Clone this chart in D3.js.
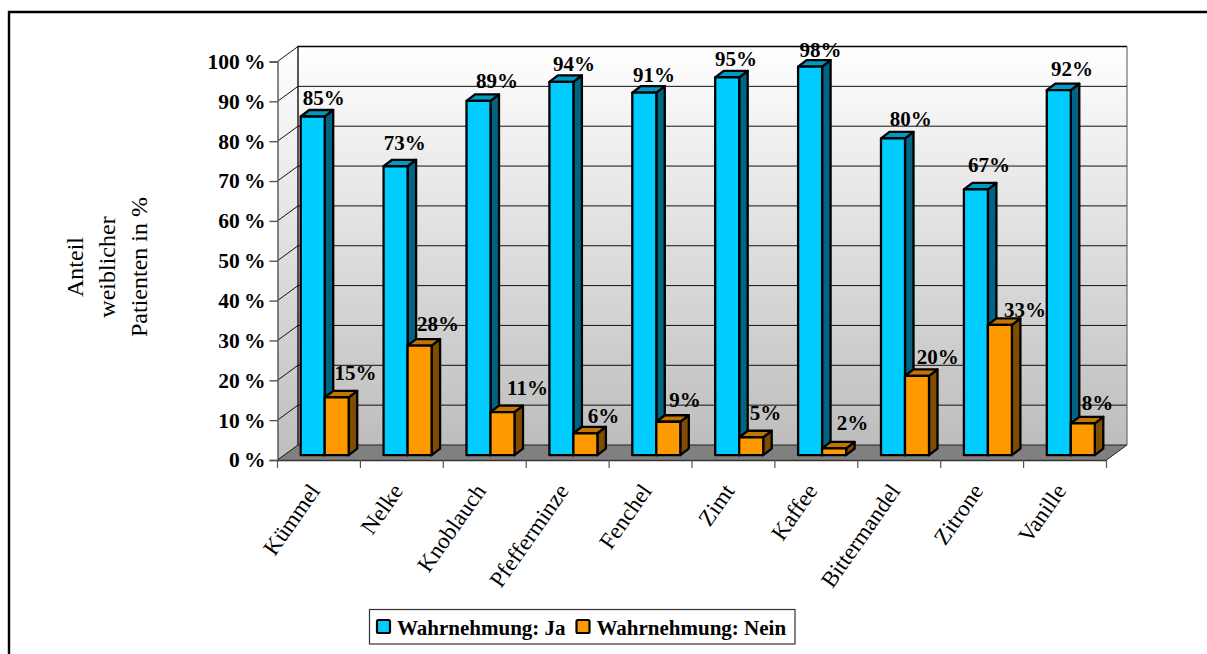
<!DOCTYPE html>
<html><head><meta charset="utf-8">
<script src="https://cdn.jsdelivr.net/npm/d3@7"></script>
<style>html,body{margin:0;padding:0;background:#fff}svg{display:block}text{font-family:"Liberation Serif",serif;fill:#000}</style>
</head><body><svg id="c" width="1207" height="654"></svg>
<script>
const categories=["Kümmel","Nelke","Knoblauch","Pfefferminze","Fenchel","Zimt","Kaffee","Bittermandel","Zitrone","Vanille"];
const seriesJa=[85,72.5,88.9,93.7,91,94.8,97.5,79.5,66.7,91.6];
const seriesNein=[14.5,27.5,10.8,5.5,8.4,4.5,1.7,19.9,32.7,8];
const labelsJa=["85%","73%","89%","94%","91%","95%","98%","80%","67%","92%"];
const labelsNein=["15%","28%","11%","6%","9%","5%","2%","20%","33%","8%"];
const yTicks=[0,10,20,30,40,50,60,70,80,90,100];
const seriesNames=["Wahrnehmung: Ja","Wahrnehmung: Nein"];
const titleLines=["Anteil","weiblicher","Patienten in %"];

const svg=d3.select("#c");
const defs=svg.append("defs");
const g=defs.append("linearGradient").attr("id","wall").attr("x1",0).attr("y1",0).attr("x2",0).attr("y2",1);
g.append("stop").attr("offset",0).attr("stop-color","#ffffff");
g.append("stop").attr("offset",1).attr("stop-color","#bdbdbd");

// frame
svg.append("path").attr("d","M9,654V12H1207").attr("fill","none").attr("stroke","#000").attr("stroke-width",2.4);

const DX=20.5,DY=-15; // chart depth
const x=d3.scaleBand().domain(categories).range([277.5,1106.5]);
const y=d3.scaleLinear().domain([0,100]).range([460,61.5]);
const X0=277.5,X1=1106.5;
const Y0=y(0),Y100=y(100);

// walls
svg.append("path").attr("d",`M${X0+DX},${Y100+DY}H${X1+DX}V${Y0+DY}H${X0+DX}Z`).attr("fill","url(#wall)");
svg.append("path").attr("d",`M${X0},${Y100}L${X0+DX},${Y100+DY}V${Y0+DY}L${X0},${Y0}Z`).attr("fill","url(#wall)");
svg.append("path").attr("d",`M${X0},${Y0}L${X0+DX},${Y0+DY}H${X1+DX}L${X1},${Y0}Z`).attr("fill","#808080");

// gridlines
yTicks.forEach(t=>{
  if(t>0&&t<100) svg.append("line").attr("x1",X0+DX).attr("x2",X1+DX).attr("y1",y(t)+DY).attr("y2",y(t)+DY).attr("stroke","#111").attr("stroke-width",1);
  svg.append("line").attr("x1",X0).attr("x2",X0+DX).attr("y1",y(t)).attr("y2",y(t)+DY).attr("stroke","#111").attr("stroke-width",1);
});
svg.append("path").attr("d",`M${X0+DX},${Y0+DY}V${Y100+DY}H${X1+DX}`).attr("fill","none").attr("stroke","#000").attr("stroke-width",1.3);
svg.append("path").attr("d",`M${X0+DX},${Y0+DY}H${X1+DX}L${X1},${Y0}`).attr("fill","none").attr("stroke","#222").attr("stroke-width",1);
svg.append("line").attr("x1",X1+DX).attr("x2",X1+DX).attr("y1",Y100+DY).attr("y2",Y0+DY).attr("stroke","#555").attr("stroke-width",1);

// axes
const axisL=d3.axisLeft(y).tickValues(yTicks).tickFormat(d=>d+"\u2009%").tickSize(8).tickPadding(4);
const al=svg.append("g").attr("transform",`translate(${X0},0)`).call(axisL);
al.selectAll("path,line").attr("stroke","#555").attr("stroke-width",1.4);
al.selectAll("text").style("font-family","'Liberation Serif',serif").style("font-size","21.5px").style("font-weight","bold").attr("fill","#000");
const axisB=d3.axisBottom(x).tickValues([]).tickSize(0);
const ab=svg.append("g").attr("transform",`translate(0,${Y0})`).call(axisB);
ab.select("path").attr("stroke","#333").attr("stroke-width",1.4);
const tickPos=d3.range(categories.length+1).map(i=>X0+i*x.step());
svg.selectAll(".xt").data(tickPos).join("line").attr("x1",d=>d).attr("x2",d=>d).attr("y1",Y0).attr("y2",Y0+8).attr("stroke","#555").attr("stroke-width",1.2);

// category labels
svg.selectAll(".cat").data(categories).join("text")
  .attr("transform",d=>`translate(${x(d)+x.bandwidth()/2+2},${Y0+31}) rotate(-55)`)
  .attr("text-anchor","end").attr("font-size",23).text(d=>d);

// bars
const BW=24,BD=8.5,BDY=-6.5,B0=y(0)-4.8;
const colors=[{f:"#00ccff",t:"#0099c4",s:"#006482"},{f:"#ff9900",t:"#c47500",s:"#7f4c00"}];
const h=v=>Y0-y(v);
function bars(vals,off,c){
  const gs=svg.append("g").attr("stroke","#000").attr("stroke-width",2.3).attr("stroke-linejoin","round");
  categories.forEach((cat,i)=>{
    const l=x(cat)+off, r=l+BW, top=B0-h(vals[i]);
    gs.append("path").attr("d",`M${r},${top}L${r+BD},${top+BDY}V${B0+BDY}L${r},${B0}Z`).attr("fill",c.s);
    gs.append("path").attr("d",`M${l},${top}L${l+BD},${top+BDY}H${r+BD}L${r},${top}Z`).attr("fill",c.t);
    gs.append("rect").attr("x",l).attr("y",top).attr("width",BW).attr("height",h(vals[i])).attr("fill",c.f);
  });
}
bars(seriesJa,23.2,colors[0]);
bars(seriesNein,47.2,colors[1]);

// value labels: hand-placed in the original, so each has its own nudge
const nudgeXJa=[46.2,44.3,53.7,47.8,45,44,45.6,52.9,48.3,48.4];
const nudgeYJa=[-11.7,-16,-12.7,-10.5,-11,-11,-9.7,-12.3,-17.6,-14];
const nudgeXNein=[78,77.6,84.2,77.3,75.9,73.5,77.6,79.9,84.3,73.9];
const nudgeYNein=[-17.7,-15,-17.3,-10,-14.4,-17.3,-18.3,-12,-8.3,-13.3];
function labels(vals,txt,nx,ny){
  svg.append("g").selectAll("text").data(categories).join("text")
   .attr("x",(d,i)=>x(d)+nx[i]).attr("y",(d,i)=>B0-h(vals[i])+ny[i])
   .attr("text-anchor","middle").attr("font-size",21).attr("font-weight","bold").text((d,i)=>txt[i]);
}
labels(seriesJa,labelsJa,nudgeXJa,nudgeYJa);
labels(seriesNein,labelsNein,nudgeXNein,nudgeYNein);

// title
titleLines.forEach((t,i)=>{
  svg.append("text").attr("transform",`translate(${83+i*32},267) rotate(-90)`).attr("text-anchor","middle").attr("font-size",24).text(t);
});

// legend
const lg=svg.append("g");
lg.append("rect").attr("x",369.5).attr("y",609.5).attr("width",425.5).attr("height",34.5).attr("fill","#fff").attr("stroke","#333").attr("stroke-width",1.2);
const lx=[377,576.5];
seriesNames.forEach((n,i)=>{
  lg.append("rect").attr("x",lx[i]).attr("y",620).attr("width",13).attr("height",13).attr("rx",1.5).attr("fill",colors[i].f).attr("stroke","#000").attr("stroke-width",2.2);
  lg.append("text").attr("x",lx[i]+20).attr("y",635).attr("font-size",21).attr("font-weight","bold").text(n);
});
</script></body></html>
